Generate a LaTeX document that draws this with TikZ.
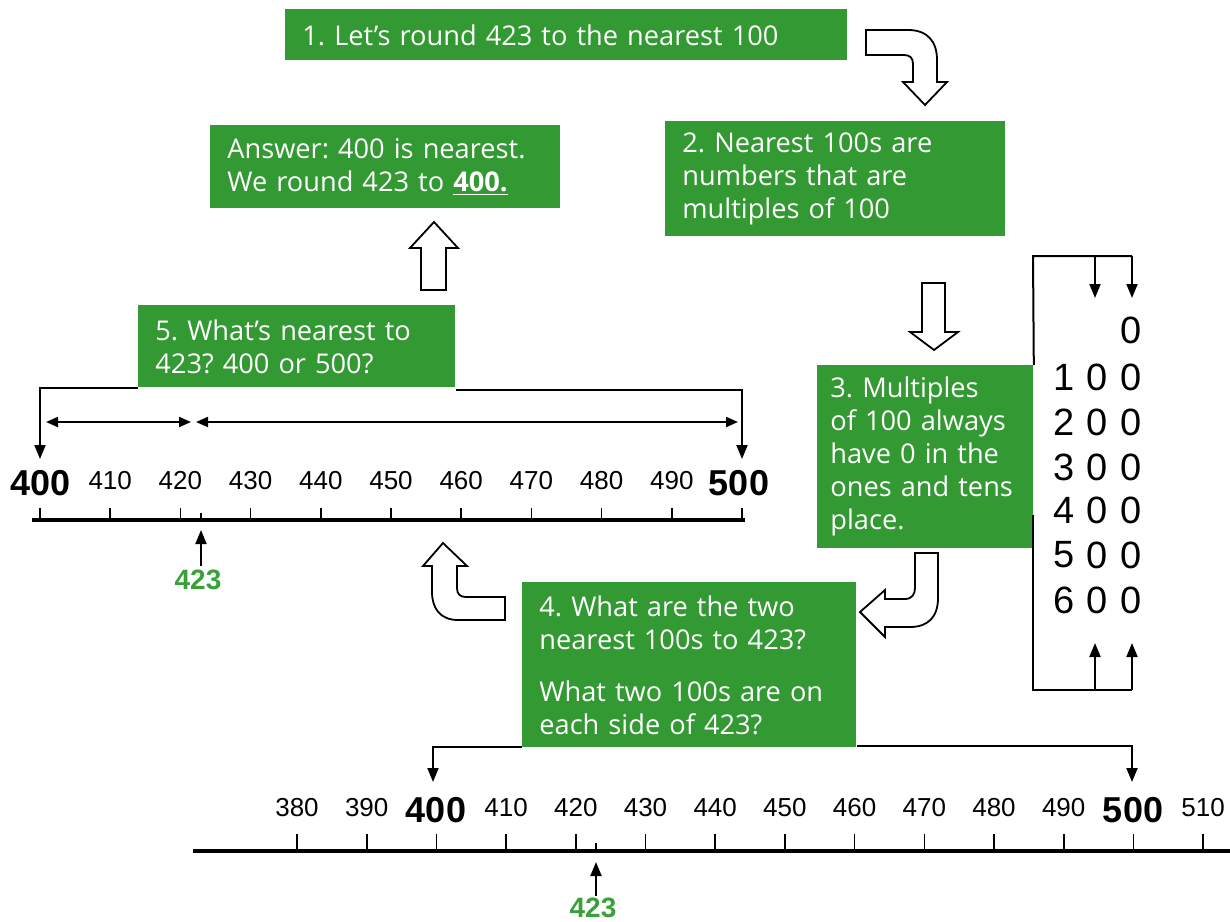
\documentclass[tikz,border=0pt]{standalone}
\usepackage{fontspec}
\setmainfont{Open Sans}
\newfontfamily\numfont{Liberation Sans}
\usetikzlibrary{arrows.meta}
\definecolor{boxgreen}{RGB}{51,153,51}
\definecolor{numgreen}{RGB}{58,160,58}
\frenchspacing
\begin{document}
\begin{tikzpicture}[x=0.5pt,y=-0.5pt,
  gbox/.style={fill=boxgreen, text=white, anchor=north west, align=left, inner xsep=8.5pt, inner ysep=0pt, font=\fontsize{13.6}{16.5}\selectfont},
  hollow/.style={draw=black, fill=white, line width=0.9pt, line join=miter},
  conn/.style={line width=1pt, -{Triangle[length=7pt,width=5.5pt]}},
  plain/.style={line width=1pt},
  dbl/.style={line width=1pt, {Triangle[length=6pt,width=5pt]}-{Triangle[length=6pt,width=5pt]}},
  lab/.style={font=\numfont\fontsize{13}{13}\selectfont, inner sep=0pt},
  big/.style={font=\numfont\bfseries\fontsize{18}{18}\selectfont, inner sep=0pt},
  grn/.style={font=\numfont\bfseries\fontsize{14}{14}\selectfont, text=numgreen, inner sep=0pt},
  dig/.style={font=\numfont\fontsize{19}{19}\selectfont, inner sep=0pt},
  tick/.style={line width=0.8pt},
  axis/.style={line width=1.6pt}
]
\useasboundingbox (0,0) rectangle (1230,921);

% green boxes
\node[gbox, text width=264pt, minimum height=25.5pt] (b1) at (285,9) {1. Let’s round 423 to the nearest 100};
\node[gbox, text width=158pt, minimum height=41.5pt] (ans) at (210,125) {Answer: 400 is nearest.\\We round 423 to \underline{\textbf{400.}}};
\node[gbox, text width=153pt, minimum height=57.5pt] (b2) at (665,121) {2. Nearest 100s are\\numbers that are\\multiples of 100};
\node[gbox, text width=141.5pt, minimum height=41pt] (b5) at (138,305) {5. What’s nearest to\\423? 400 or 500?};
\node[gbox, text width=95pt, inner xsep=6.5pt, minimum height=91.5pt] (b3) at (817,365) {3. Multiples\\of 100 always\\have 0 in the\\ones and tens\\place.};
\node[gbox, text width=150pt, minimum height=82.5pt] (b4) at (522,582) {4. What are the two\\nearest 100s to 423?\\[9.5pt]What two 100s are on\\each side of 423?};

% hollow arrows
\draw[hollow] (866,30) -- (908,30) .. controls (928,30) and (937,42) .. (937,60) -- (937,82) -- (947,82) -- (925,105) -- (903,82) -- (913,82) -- (913,64) .. controls (913,58) and (910,55) .. (904,55) -- (866,55) -- cycle;
\draw[hollow] (922,283) -- (945,283) -- (945,332) -- (958,332) -- (934,350) -- (910,332) -- (922,332) -- cycle;
\draw[hollow] (421,290) -- (446,290) -- (446,248) -- (458,248) -- (434,222) -- (410,248) -- (421,248) -- cycle;
\draw[hollow] (915,553) -- (938,553) -- (938,598) .. controls (938,617) and (928,627) .. (910,627) -- (885,627) -- (885,637) -- (860,612) -- (885,590) -- (885,599) -- (905,599) .. controls (912,599) and (915,594) .. (915,588) -- cycle;
\draw[hollow] (505,597) -- (505,620) -- (458,620) .. controls (440,620) and (432,608) .. (432,592) -- (432,566) -- (423,566) -- (443,543) -- (467,566) -- (457,566) -- (457,588) .. controls (457,594) and (460,597) .. (466,597) -- cycle;

% upper number line
\draw[axis] (32,520) -- (745,520);
\foreach \i in {0,...,10} {
  \draw[tick] (40+70.2*\i,508) -- (40+70.2*\i,520);
}
\foreach \i in {1,...,9} {
  \pgfmathtruncatemacro{\v}{400+10*\i}
  \node[lab] (u\i) at (40+70.2*\i,481) {\v};
}
\node[big] (u0) at (41,483) {400};
\node[big] (u10) at (739,483) {500};
\draw[tick] (201,513) -- (201,520);
\node[grn] (u423) at (198,580) {423};
\coordinate (u423t) at (201,530);
\coordinate (u423s) at (201,566);
\draw[conn] (u423s) -- (u423t);

% box 5 connectors
\coordinate (t400) at (40,459);
\coordinate (t500) at (742,459);
\draw[conn] (b5.south west) -| (t400);
\draw[conn] ([yshift=-1pt]b5.south east) -| (t500);
\coordinate (d1a) at (46,422);
\coordinate (d1b) at (191,422);
\coordinate (d2a) at (196,422);
\coordinate (d2b) at (738,422);
\draw[dbl] (d1a) -- (d1b);
\draw[dbl] (d2a) -- (d2b);

% lower number line
\draw[line width=2pt] (193,851) -- (1230,851);
\foreach \i in {0,...,13} {
  \draw[tick] (297+69.7*\i,834) -- (297+69.7*\i,851);
}
\foreach \i in {0,1,3,4,5,6,7,8,9,10,11,13} {
  \pgfmathtruncatemacro{\v}{380+10*\i}
  \node[lab] (l\i) at (297+69.7*\i,808) {\v};
}
\node[big] (l2) at (436,810) {400};
\node[big] (l12) at (1133,810) {500};
\draw[tick] (596,843) -- (596,851);
\node[grn] (l423) at (593,908) {423};
\coordinate (l423t) at (596,862);
\coordinate (l423s) at (596,896);
\draw[conn] (l423s) -- (l423t);

% box 4 connectors
\coordinate (t400b) at (433,782);
\coordinate (t500b) at (1132,782);
\draw[conn] ([yshift=0.5pt]b4.south west) -| (t400b);
\draw[conn] ([yshift=1pt]b4.south east) -| (t500b);

% digit column
\node[dig] (r0c) at (1131,330) {0};
\foreach \r/\y in {1/377,2/422,3/467,4/510,5/555,6/600} {
  \node[dig] (r\r a) at (1064,\y) {\r};
  \node[dig] (r\r b) at (1097,\y) {0};
  \node[dig] (r\r c) at (1131,\y) {0};
}

% bracket
\coordinate (tl) at (1033,256);
\coordinate (tm) at (1095,256);
\coordinate (tr) at (1132,256);
\coordinate (ta1) at (1095,298);
\coordinate (ta2) at (1132,298);
\draw[plain] (b3.north east) -- (tl) -- (tr);
\draw[conn] (tm) -- (ta1);
\draw[conn] (tr) -- (ta2);
\coordinate (bs) at (1033,515);
\coordinate (bl) at (1033,690);
\coordinate (bm) at (1095,690);
\coordinate (br) at (1132,690);
\coordinate (ba1) at (1095,643);
\coordinate (ba2) at (1132,643);
\draw[plain] (bs) -- (bl) -- (br);
\draw[conn] (bm) -- (ba1);
\draw[conn] (br) -- (ba2);
\end{tikzpicture}
\end{document}
